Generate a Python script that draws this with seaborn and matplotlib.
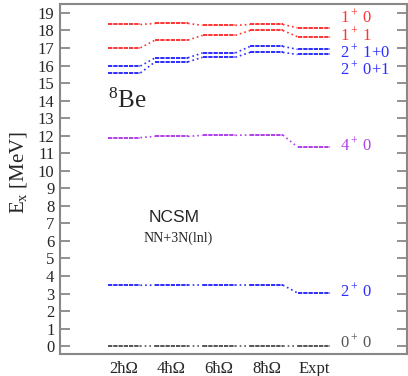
import numpy as np
import pandas as pd
import seaborn as sns
import matplotlib.pyplot as plt

# Model spaces / columns of the level scheme
columns = ["2ħΩ", "4ħΩ", "6ħΩ", "8ħΩ", "Expt"]

# Excitation energies (MeV) for each state, one value per column
e_1p_0 = [18.34, 18.40, 18.29, 18.34, 18.15]
e_1p_1 = [17.01, 17.45, 17.72, 18.00, 17.64]
e_2p_10 = [15.97, 16.44, 16.72, 17.09, 16.92]
e_2p_01 = [15.58, 16.21, 16.47, 16.75, 16.63]
e_4p_0 = [11.89, 11.96, 12.02, 12.04, 11.35]
e_2p_0 = [3.47, 3.48, 3.48, 3.48, 3.03]
e_0p_0 = [0.0, 0.0, 0.0, 0.0, 0.0]

state_names = ["1+0", "1+1", "2+1+0", "2+0+1", "4+0", "2+0", "0+0"]
state_energies = [e_1p_0, e_1p_1, e_2p_10, e_2p_01, e_4p_0, e_2p_0, e_0p_0]
state_labels = [r"$\mathregular{1^+\ 0}$", r"$\mathregular{1^+\ 1}$",
                r"$\mathregular{2^+\ 1{+}0}$", r"$\mathregular{2^+\ 0{+}1}$",
                r"$\mathregular{4^+\ 0}$", r"$\mathregular{2^+\ 0}$",
                r"$\mathregular{0^+\ 0}$"]
label_y = [18.72, 17.72, 16.74, 15.76, 11.45, 3.1, 0.2]

colors = {"1+0": "#ff3333", "1+1": "#ff3333",
          "2+1+0": "#2d2dff", "2+0+1": "#2d2dff",
          "4+0": "#b040e8", "2+0": "#2d2dff", "0+0": "#555555"}

half = 0.345  # half width of a level bar
pos = np.arange(len(columns))

# Level bars and connecting dotted lines as long-form tables
bars, links = [], []
for name, en in zip(state_names, state_energies):
    for i, (p, e) in enumerate(zip(pos, en)):
        seg = f"{name}-{i}"
        bars.append((name, seg, p - half, e))
        bars.append((name, seg, p + half, e))
        if i + 1 < len(pos):
            links.append((name, seg, p + half, e))
            links.append((name, seg, pos[i + 1] - half, en[i + 1]))
df_bars = pd.DataFrame(bars, columns=["state", "seg", "x", "E"])
df_links = pd.DataFrame(links, columns=["state", "seg", "x", "E"])

sns.set_style("white")
plt.rcParams["font.family"] = ["Liberation Serif", "DejaVu Serif"]
plt.rcParams["mathtext.fontset"] = "custom"
plt.rcParams["mathtext.rm"] = "Liberation Serif"
plt.rcParams["mathtext.it"] = "Liberation Serif:italic"

fig = plt.figure(figsize=(4.08, 3.76), dpi=100)
ax = fig.add_axes([0.147, 0.0585, 0.8505, 0.9305])

for name in state_names:
    sub = df_bars[df_bars.state == name]
    sns.lineplot(data=sub, x="x", y="E", units="seg", estimator=None,
                 color=colors[name], lw=1.4, ax=ax, legend=False,
                 linestyle=(0, (2.2, 0.5)), sort=False)
    sub = df_links[df_links.state == name]
    sns.lineplot(data=sub, x="x", y="E", units="seg", estimator=None,
                 color=colors[name], lw=1.2, ax=ax, legend=False,
                 linestyle=(0, (1, 1.8)), sort=False)

for name, lab, y in zip(state_names, state_labels, label_y):
    ax.text(4.55, y, lab, color=colors[name], fontsize=12, va="center",
            ha="left")

ax.text(-0.34, 13.6, r"$\mathregular{^8}$Be", fontsize=18, ha="left",
        va="baseline")
ax.text(1.05, 7.1, "NCSM", fontsize=12.5, ha="center", va="baseline",
        family=["Liberation Sans", "DejaVu Sans"])
ax.text(1.15, 5.95, "NN+3N(lnl)", fontsize=10, ha="center", va="baseline")

ax.set_xlim(-1.35, 5.96)
ax.set_ylim(-0.45, 19.5)
ax.set_xticks(pos)
ax.set_xticklabels(columns, fontsize=12)
ax.set_yticks(range(0, 20))
ax.set_yticklabels([str(v) for v in range(0, 20)], fontsize=12)
ax.tick_params(axis="x", length=0, pad=5)
ax.tick_params(axis="y", direction="in", length=7, width=1.3, color="#888888",
               right=True, left=True, pad=4)
ax.set_xlabel("")
ax.set_ylabel(r"$\mathregular{E_x}$ [MeV]", fontsize=15, labelpad=1)
ax.yaxis.set_label_coords(-0.088, 0.52)
for s in ax.spines.values():
    s.set_color("#888888")
    s.set_linewidth(1.5)

fig.savefig("out.png", dpi=100)
